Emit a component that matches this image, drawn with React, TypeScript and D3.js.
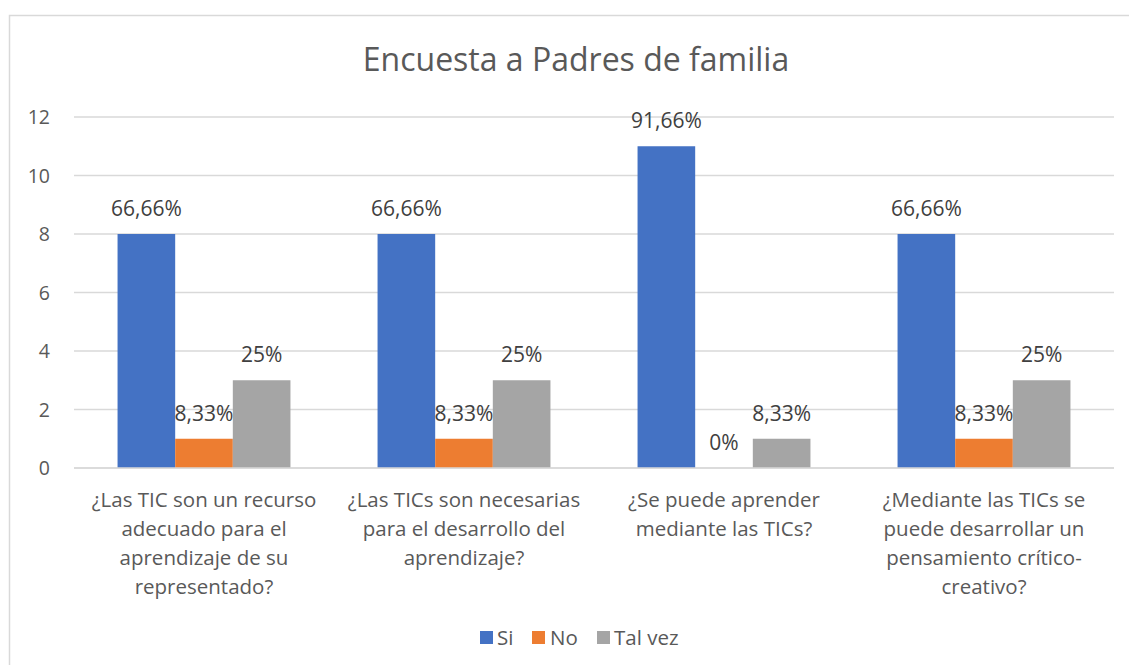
import React from "react";
import * as d3 from "d3";

const categories = [
  ["¿Las TIC son un recurso", "adecuado para el", "aprendizaje de su", "representado?"],
  ["¿Las TICs son necesarias", "para el desarrollo del", "aprendizaje?"],
  ["¿Se puede aprender", "mediante las TICs?"],
  ["¿Mediante las TICs se", "puede desarrollar un", "pensamiento crítico-", "creativo?"],
];
const seriesNames = ["Si", "No", "Tal vez"];
const siValues = [8, 8, 11, 8];
const noValues = [1, 1, 0, 1];
const talVezValues = [3, 3, 1, 3];
const siLabels = ["66,66%", "66,66%", "91,66%", "66,66%"];
const noLabels = ["8,33%", "8,33%", "0%", "8,33%"];
const talVezLabels = ["25%", "25%", "8,33%", "25%"];
const yTicks = [0, 2, 4, 6, 8, 10, 12];
const colors = ["#4472C4", "#ED7D31", "#A5A5A5"];

const FONT = "'Open Sans', Lato, sans-serif";

export default function App() {
  const W = 1129, H = 665;
  const left = 74, right = 1114, top = 117, bottom = 468;
  const series = [siValues, noValues, talVezValues];
  const labels = [siLabels, noLabels, talVezLabels];
  const x0 = d3.scaleBand<number>().domain(categories.map((_, i) => i)).range([left, right]).paddingInner(0.335).paddingOuter(0.1675);
  const x1 = d3.scaleBand<number>().domain([0, 1, 2]).range([0, x0.bandwidth()]);
  const y = d3.scaleLinear().domain([0, 12]).range([bottom, top]);
  const legendItems = [
    { x: 480, tx: 497 },
    { x: 532, tx: 550 },
    { x: 597, tx: 614 },
  ];
  return (
    <svg width={W} height={H} style={{ position: "absolute", left: 0, top: 0 }} fontFamily={FONT}>
      <rect x={0} y={0} width={W} height={H} fill="#fff" />
      <rect x={9.5} y={15.5} width={W + 20} height={H + 20} fill="none" stroke="#D9D9D9" strokeWidth={1.5} />
      <text x={576} y={71} textAnchor="middle" fontSize={32} fill="#595959">Encuesta a Padres de familia</text>
      {yTicks.map((t) => (
        <g key={t}>
          <line x1={left} x2={right} y1={y(t)} y2={y(t)} stroke="#D9D9D9" strokeWidth={1.5} />
          <text x={50} y={y(t) + 7} textAnchor="end" fontSize={19.5} fill="#595959">{t}</text>
        </g>
      ))}
      {categories.map((_, ci) => (
        <g key={ci} transform={`translate(${x0(ci)},0)`}>
          {series.map((vals, si) => (
            <rect key={si} x={x1(si)} y={y(vals[ci])} width={x1.bandwidth()} height={bottom - y(vals[ci])} fill={colors[si]} />
          ))}
        </g>
      ))}
      <line x1={left} x2={right} y1={bottom} y2={bottom} stroke="#D9D9D9" strokeWidth={1.5} />
      {categories.map((_, ci) => (
        <g key={ci} transform={`translate(${x0(ci)},0)`}>
          {series.map((vals, si) => (
            <text key={si} x={(x1(si) as number) + x1.bandwidth() / 2} y={y(vals[ci]) - 18} textAnchor="middle" fontSize={21} fill="#404040">{labels[si][ci]}</text>
          ))}
        </g>
      ))}
      {categories.map((lines, ci) => (
        <text key={ci} textAnchor="middle" fontSize={20.5} fill="#595959">
          {lines.map((l, li) => (
            <tspan key={li} x={(x0(ci) as number) + x0.bandwidth() / 2} y={507 + li * 29}>{l}</tspan>
          ))}
        </text>
      ))}
      {seriesNames.map((n, i) => (
        <g key={n}>
          <rect x={legendItems[i].x} y={631} width={13} height={13} fill={colors[i]} />
          <text x={legendItems[i].tx} y={645} fontSize={20.5} fill="#595959">{n}</text>
        </g>
      ))}
    </svg>
  );
}
